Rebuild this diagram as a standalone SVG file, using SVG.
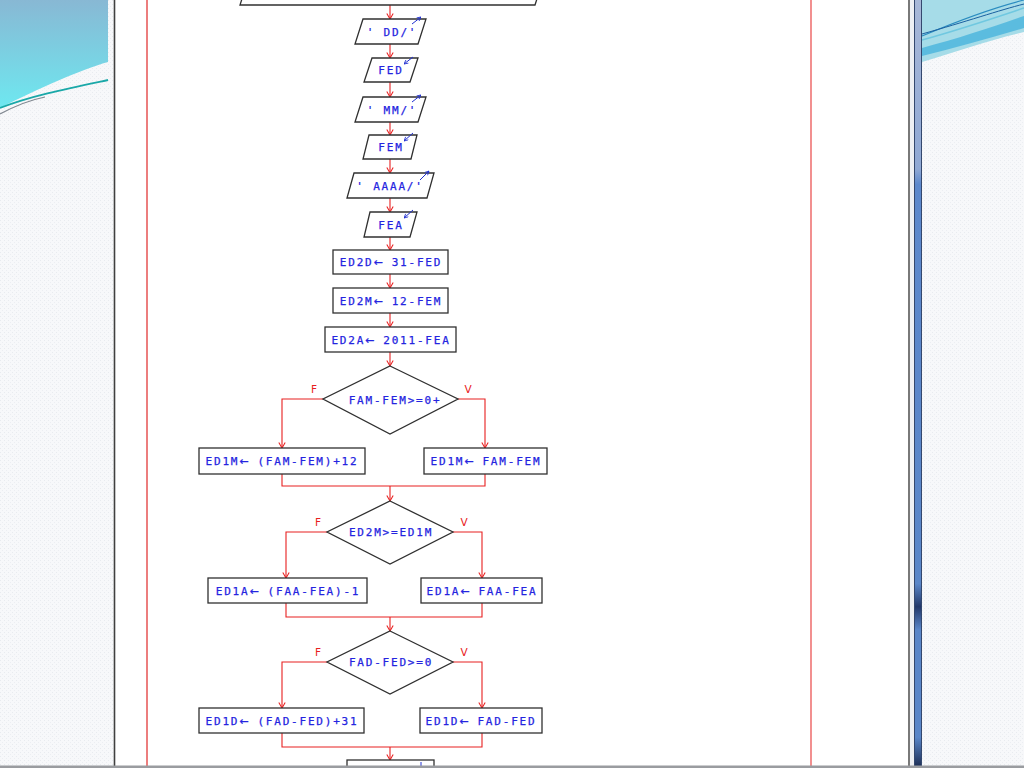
<svg xmlns="http://www.w3.org/2000/svg" width="1024" height="768" viewBox="0 0 1024 768">
<defs>
  <pattern id="dots" width="4" height="4" patternUnits="userSpaceOnUse">
    <rect width="4" height="4" fill="#f7f8fa"/>
    <rect x="0" y="0" width="1" height="1" fill="#e8ebef"/>
    <rect x="2" y="2" width="1" height="1" fill="#eceef2"/>
  </pattern>
  <linearGradient id="waveL" x1="0" y1="0" x2="0" y2="1">
    <stop offset="0" stop-color="#88b8d4"/>
    <stop offset="1" stop-color="#6ee8f0"/>
  </linearGradient>
  <linearGradient id="bar" x1="0" y1="0" x2="0" y2="1">
    <stop offset="0" stop-color="#a8b8d8"/>
    <stop offset="0.22" stop-color="#8fa8d4"/>
    <stop offset="0.24" stop-color="#5c88cc"/>
    <stop offset="0.76" stop-color="#5a86c8"/>
    <stop offset="0.79" stop-color="#22386a"/>
    <stop offset="0.82" stop-color="#5a86c8"/>
    <stop offset="0.96" stop-color="#5a86c8"/>
    <stop offset="1" stop-color="#1a2a50"/>
  </linearGradient>
  <marker id="ah" viewBox="0 0 10 10" refX="10" refY="5" markerWidth="8" markerHeight="8" markerUnits="userSpaceOnUse" orient="auto">
    <path d="M3,1 L10,5 L3,9" fill="none" stroke="#e82020" stroke-width="1.3"/>
  </marker>
  <marker id="bh" viewBox="0 0 10 10" refX="10" refY="5" markerWidth="5" markerHeight="5" markerUnits="userSpaceOnUse" orient="auto">
    <path d="M2,1 L10,5 L2,9" fill="none" stroke="#2030d0" stroke-width="1.6"/>
  </marker>
  <style>
    .node { fill: #ffffff; stroke: #303030; stroke-width: 1.3; }
    .t { font-family: "DejaVu Sans Mono", "Liberation Mono", monospace; font-size: 11px; fill: #2424e0; stroke: #2424e0; stroke-width: 0.25; letter-spacing: 1.8px; text-anchor: middle; }
    .ar { font-family: "DejaVu Sans", "Liberation Sans", sans-serif; letter-spacing: 0.5px; }
    .lbl { font-family: "DejaVu Sans", "Liberation Sans", sans-serif; font-size: 10.5px; fill: #e82020; text-anchor: middle; }
    .c { fill: none; stroke: #e82020; stroke-width: 1.1; }
    .io { stroke: #2030d0; stroke-width: 1; fill: none; }
  </style>
</defs>

<!-- slide background -->
<rect x="0" y="0" width="1024" height="768" fill="url(#dots)"/>
<!-- top-left wave -->
<path d="M0,0 H108 V62 C80,70 40,88 0,108 Z" fill="url(#waveL)"/>
<path d="M0,108 C30,96 70,88 108,80" fill="none" stroke="#1aa8a8" stroke-width="1.8"/>
<path d="M0,114 C15,106 30,100 45,97" fill="none" stroke="#808890" stroke-width="1.2"/>
<!-- top-right wave -->
<path d="M922,0 H1024 V32 C990,40 955,52 922,62 Z" fill="#a6dce8"/>
<path d="M922,48 C960,38 995,26 1024,16 V28 C990,38 955,48 922,56 Z" fill="#48b4dc" opacity="0.8"/>
<path d="M922,36 C960,20 1000,6 1024,0" fill="none" stroke="#2a8cc0" stroke-width="1.2"/>
<path d="M922,34 C965,22 1000,10 1024,4" fill="none" stroke="#1a60a0" stroke-width="1"/>
<path d="M922,40 C965,28 1000,16 1024,8" fill="none" stroke="#70c8e0" stroke-width="1.5"/>

<!-- window -->
<rect x="114" y="0" width="796" height="768" fill="#ffffff"/>
<line x1="114.5" y1="0" x2="114.5" y2="768" stroke="#404040" stroke-width="1.6"/>
<line x1="909" y1="0" x2="909" y2="768" stroke="#404040" stroke-width="1.4"/>
<rect x="910" y="0" width="4" height="768" fill="#eef0f4"/>
<rect x="914" y="0" width="8" height="768" fill="url(#bar)"/>
<line x1="914.5" y1="0" x2="914.5" y2="768" stroke="#34486e" stroke-width="1"/>
<line x1="921.5" y1="0" x2="921.5" y2="768" stroke="#34486e" stroke-width="1"/>

<!-- red frame -->
<line x1="147" y1="0" x2="147" y2="768" stroke="#e02828" stroke-width="1.2"/>
<line x1="811" y1="0" x2="811" y2="768" stroke="#ec6060" stroke-width="1.4"/>

<!-- connectors -->
<g id="connectors">
  <path class="c" d="M390,5 V19" marker-end="url(#ah)"/>
  <path class="c" d="M390,44 V58" marker-end="url(#ah)"/>
  <path class="c" d="M390,82 V97" marker-end="url(#ah)"/>
  <path class="c" d="M390,122 V135" marker-end="url(#ah)"/>
  <path class="c" d="M390,159 V173" marker-end="url(#ah)"/>
  <path class="c" d="M390,198 V212" marker-end="url(#ah)"/>
  <path class="c" d="M390,237 V250" marker-end="url(#ah)"/>
  <path class="c" d="M390,274 V288" marker-end="url(#ah)"/>
  <path class="c" d="M390,313 V327" marker-end="url(#ah)"/>
  <path class="c" d="M390,352 V366" marker-end="url(#ah)"/>
  <path class="c" d="M323,399 H282 V448" marker-end="url(#ah)"/>
  <path class="c" d="M458,399 H485 V448" marker-end="url(#ah)"/>
  <path class="c" d="M282,474 V486 H485 V474"/>
  <path class="c" d="M390,486 V501" marker-end="url(#ah)"/>
  <path class="c" d="M327,532 H286 V578" marker-end="url(#ah)"/>
  <path class="c" d="M453,532 H482 V578" marker-end="url(#ah)"/>
  <path class="c" d="M286,603 V617 H482 V603"/>
  <path class="c" d="M390,617 V631" marker-end="url(#ah)"/>
  <path class="c" d="M327,662 H282 V708" marker-end="url(#ah)"/>
  <path class="c" d="M453,662 H482 V708" marker-end="url(#ah)"/>
  <path class="c" d="M282,733 V747 H482 V733"/>
  <path class="c" d="M390,747 V760" marker-end="url(#ah)"/>
  <text class="lbl" x="314" y="393">F</text>
  <text class="lbl" x="468" y="393">V</text>
  <text class="lbl" x="318" y="526">F</text>
  <text class="lbl" x="464" y="526">V</text>
  <text class="lbl" x="318" y="656">F</text>
  <text class="lbl" x="464" y="656">V</text>
</g>

<!-- nodes -->
<g id="n-top">
  <polygon class="node" points="248,-20 543,-20 535,5 240,5"/>
</g>
<g id="n-dd">
  <polygon class="node" points="363,19 426,19 418,44 355,44"/>
  <text class="t" x="392" y="35.5">' DD/'</text>
  <line class="io" x1="412" y1="24" x2="421" y2="17" marker-end="url(#bh)"/>
</g>
<g id="n-fed">
  <polygon class="node" points="372,58 418,58 410,82 364,82"/>
  <text class="t" x="391" y="74">FED</text>
  <line class="io" x1="413" y1="57" x2="404" y2="64" marker-end="url(#bh)"/>
</g>
<g id="n-mm">
  <polygon class="node" points="363,97 426,97 418,122 355,122"/>
  <text class="t" x="392" y="113.5">' MM/'</text>
  <line class="io" x1="412" y1="102" x2="421" y2="95" marker-end="url(#bh)"/>
</g>
<g id="n-fem">
  <polygon class="node" points="369,135 417,135 411,159 363,159"/>
  <text class="t" x="391" y="151">FEM</text>
  <line class="io" x1="413" y1="133" x2="404" y2="141" marker-end="url(#bh)"/>
</g>
<g id="n-aaaa">
  <polygon class="node" points="354,173 434,173 427,198 347,198"/>
  <text class="t" x="390" y="189.5">' AAAA/'</text>
  <line class="io" x1="420" y1="180" x2="429" y2="171" marker-end="url(#bh)"/>
</g>
<g id="n-fea">
  <polygon class="node" points="370,212 417,212 410,237 364,237"/>
  <text class="t" x="391" y="228.5">FEA</text>
  <line class="io" x1="413" y1="210" x2="404" y2="218" marker-end="url(#bh)"/>
</g>
<g id="n-ed2d">
  <rect class="node" x="333" y="250" width="115" height="24"/>
  <text class="t" x="391" y="266">ED2D<tspan class="ar">←</tspan> 31-FED</text>
</g>
<g id="n-ed2m">
  <rect class="node" x="333" y="288" width="115" height="25"/>
  <text class="t" x="391" y="304.5">ED2M<tspan class="ar">←</tspan> 12-FEM</text>
</g>
<g id="n-ed2a">
  <rect class="node" x="325" y="327" width="131" height="25"/>
  <text class="t" x="391" y="343.5">ED2A<tspan class="ar">←</tspan> 2011-FEA</text>
</g>
<g id="n-d1">
  <polygon class="node" points="390,366 458,399 390,434 323,399"/>
  <text class="t" x="395" y="403.5">FAM-FEM&gt;=0+</text>
</g>
<g id="n-ed1m-f">
  <rect class="node" x="199" y="448" width="166" height="26"/>
  <text class="t" x="282" y="465">ED1M<tspan class="ar">←</tspan> (FAM-FEM)+12</text>
</g>
<g id="n-ed1m-v">
  <rect class="node" x="424" y="448" width="123" height="26"/>
  <text class="t" x="486" y="465">ED1M<tspan class="ar">←</tspan> FAM-FEM</text>
</g>
<g id="n-d2">
  <polygon class="node" points="390,501 453,532 390,564 327,532"/>
  <text class="t" x="391" y="536">ED2M&gt;=ED1M</text>
</g>
<g id="n-ed1a-f">
  <rect class="node" x="208" y="578" width="159" height="25"/>
  <text class="t" x="288" y="594.5">ED1A<tspan class="ar">←</tspan> (FAA-FEA)-1</text>
</g>
<g id="n-ed1a-v">
  <rect class="node" x="421" y="578" width="121" height="25"/>
  <text class="t" x="482" y="594.5">ED1A<tspan class="ar">←</tspan> FAA-FEA</text>
</g>
<g id="n-d3">
  <polygon class="node" points="390,631 453,662 390,694 327,662"/>
  <text class="t" x="391" y="666">FAD-FED&gt;=0</text>
</g>
<g id="n-ed1d-f">
  <rect class="node" x="199" y="708" width="165" height="25"/>
  <text class="t" x="282" y="724.5">ED1D<tspan class="ar">←</tspan> (FAD-FED)+31</text>
</g>
<g id="n-ed1d-v">
  <rect class="node" x="420" y="708" width="122" height="25"/>
  <text class="t" x="481" y="724.5">ED1D<tspan class="ar">←</tspan> FAD-FED</text>
</g>
<g id="n-bottom">
  <rect class="node" x="347" y="760" width="87" height="20"/>
  <line x1="421" y1="762" x2="421" y2="766" stroke="#2030d0" stroke-width="1"/>
</g>

<!-- bottom edge -->
<rect x="0" y="765.5" width="1024" height="2.5" fill="#9a9ca0"/>
</svg>
